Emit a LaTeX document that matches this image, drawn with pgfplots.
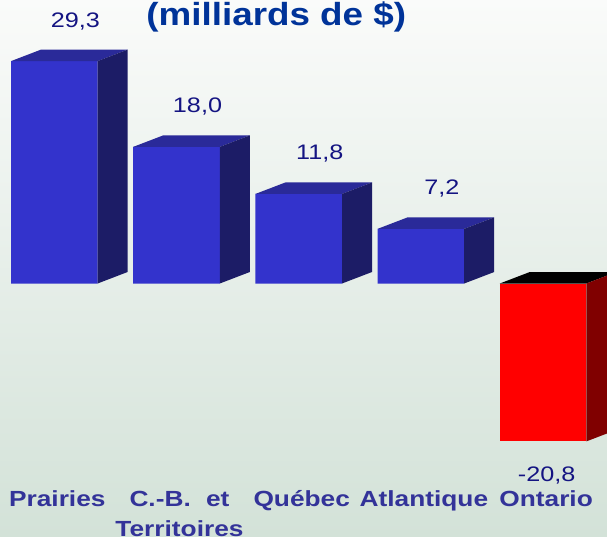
\documentclass[border=0pt]{standalone}
\usepackage{fontspec}
\usepackage{pgfplots}
\pgfplotsset{compat=1.18}
\usepackage{pgfplotstable}
\newfontfamily\labfont[FakeStretch=1.2]{Liberation Sans}
\newfontfamily\titfont[FakeStretch=1.15]{Liberation Sans}
\definecolor{bgtop}{HTML}{FAFBFA}
\definecolor{bgbot}{HTML}{D3E2D8}
\definecolor{frontblue}{HTML}{3333CC}
\definecolor{topblue}{HTML}{2A2A99}
\definecolor{sideblue}{HTML}{1C1C66}
\definecolor{frontred}{HTML}{FF0000}
\definecolor{topred}{HTML}{000000}
\definecolor{sidered}{HTML}{800000}
\definecolor{numcol}{HTML}{141482}
\definecolor{labcol}{HTML}{333399}
\definecolor{titcol}{HTML}{003399}

\pgfplotstableread{
x v
0 29.3
1 18.0
2 11.8
3 7.2
}\gains
\pgfplotstableread{
x v
4 -20.8
}\losses

% top + side faces and value label of a bar, drawn at the data point
% #1 mark name, #2 top colour, #3 side colour, #4/#5 label offset
\newcommand\defcuboid[5]{%
\pgfdeclareplotmark{#1}{%
  \pgfmathsetmacro\cubH{\val*7.59}%
  \pgfmathsetmacro\cubT{max(0,-\cubH)}%
  \pgfmathsetmacro\cubB{min(0,-\cubH)}%
  \pgfpathmoveto{\pgfpoint{-43.3pt}{\cubT pt}}%
  \pgfpathlineto{\pgfpoint{-13.3pt}{\cubT pt+11.5pt}}%
  \pgfpathlineto{\pgfpoint{73.3pt}{\cubT pt+11.5pt}}%
  \pgfpathlineto{\pgfpoint{43.3pt}{\cubT pt}}%
  \pgfpathclose
  \pgfsetfillcolor{#2}\pgfusepath{fill}%
  \pgfpathmoveto{\pgfpoint{43.3pt}{\cubT pt}}%
  \pgfpathlineto{\pgfpoint{73.3pt}{\cubT pt+11.5pt}}%
  \pgfpathlineto{\pgfpoint{73.3pt}{\cubB pt+11.5pt}}%
  \pgfpathlineto{\pgfpoint{43.3pt}{\cubB pt}}%
  \pgfpathclose
  \pgfsetfillcolor{#3}\pgfusepath{fill}%
  \pgftext[base,at={\pgfpoint{#4}{#5}}]{\color{numcol}\labfont\fontsize{21}{25}\selectfont
    \pgfmathprintnumber[fixed,fixed zerofill,precision=1,use comma,assume math mode=true]{\val}}%
}}
\defcuboid{cubblue}{topblue}{sideblue}{21pt}{34pt}
\defcuboid{cubred}{topred}{sidered}{3.5pt}{-40pt}

\begin{document}
\begin{tikzpicture}
\shade[top color=bgtop,bottom color=bgbot] (0,0) rectangle (607pt,536pt);
\begin{axis}[
  at={(0,0)}, anchor=south west,
  x=122.2pt, y=7.59pt,
  xmin=-0.4444, xmax=4.5229, ymin=-33.267, ymax=37.352,
  clip=false,
  axis line style={draw=none}, tick style={draw=none},
  ytick=\empty, xtick={0,1,2,3,4},
  xticklabels={Prairies,
    {\begin{tabular}[t]{@{}c@{}}C.-B.\hspace{8pt} et\hspace{24pt}\\Territoires\end{tabular}},
    Québec,Atlantique,Ontario},
  xticklabel style={font=\labfont\bfseries\fontsize{21.9}{29.7}\selectfont,
    text=labcol, anchor=base, yshift=29.3pt, xshift=3pt},
]
\addplot[ybar, bar width=0.7087, bar shift=0pt, fill=frontblue, draw=none]
  table[x=x,y=v]{\gains};
\addplot[ybar, bar width=0.7087, bar shift=0pt, fill=frontred, draw=none]
  table[x=x,y=v]{\losses};
\addplot[only marks, mark=cubblue, visualization depends on={\thisrow{v}\as\val}]
  table[x=x,y=v]{\gains};
\addplot[only marks, mark=cubred, visualization depends on={\thisrow{v}\as\val}]
  table[x=x,y=v]{\losses};
\end{axis}
\node[anchor=base, inner sep=0pt, text=titcol,
  font=\titfont\bfseries\fontsize{32}{38}\selectfont] at (276.3pt,510pt) {(milliards de \$)};
\pgfresetboundingbox
\useasboundingbox (0,0) rectangle (607pt,536pt);
\end{tikzpicture}
\end{document}
